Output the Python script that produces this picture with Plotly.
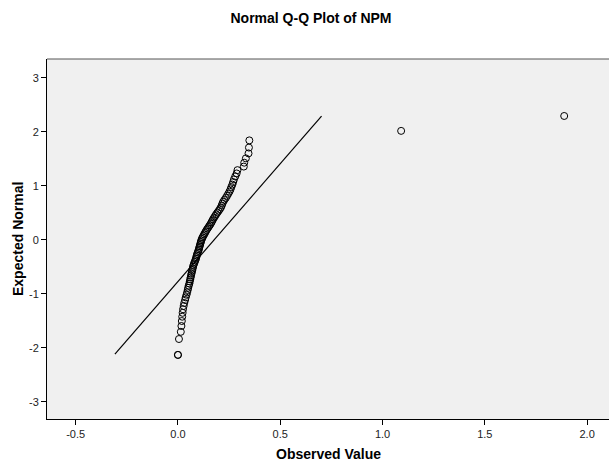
import plotly.graph_objects as go

# Observed NPM values, sorted ascending
observed = [
    0.000, 0.000, 0.005, 0.014, 0.017, 0.019, 0.021, 0.023, 0.025, 0.028,
    0.031, 0.035, 0.038, 0.042, 0.045, 0.048, 0.050, 0.053, 0.056, 0.058,
    0.060, 0.062, 0.064, 0.066, 0.068, 0.070, 0.072, 0.074, 0.076, 0.079,
    0.082, 0.085, 0.088, 0.090, 0.092, 0.094, 0.097, 0.100, 0.102, 0.104,
    0.106, 0.108, 0.110, 0.112, 0.114, 0.117, 0.120, 0.124, 0.128, 0.132,
    0.136, 0.140, 0.145, 0.150, 0.155, 0.160, 0.164, 0.168, 0.172, 0.177,
    0.182, 0.187, 0.193, 0.199, 0.205, 0.210, 0.214, 0.217, 0.221, 0.227,
    0.234, 0.240, 0.246, 0.252, 0.257, 0.261, 0.266, 0.270, 0.274, 0.280,
    0.287, 0.291, 0.322, 0.324, 0.332, 0.345, 0.347, 0.349, 1.091, 1.888,
]

# Expected normal scores for each observed value
expected = [
    -2.133, -2.133, -1.839, -1.706, -1.598, -1.506, -1.426, -1.354, -1.288, -1.227,
    -1.171, -1.117, -1.068, -1.020, -0.975, -0.931, -0.890, -0.850, -0.811, -0.773,
    -0.736, -0.701, -0.666, -0.632, -0.598, -0.566, -0.534, -0.502, -0.471, -0.441,
    -0.411, -0.381, -0.351, -0.322, -0.293, -0.265, -0.236, -0.208, -0.180, -0.152,
    -0.124, -0.097, -0.069, -0.041, -0.014, 0.014, 0.041, 0.069, 0.097, 0.124,
    0.152, 0.180, 0.208, 0.236, 0.265, 0.293, 0.322, 0.351, 0.381, 0.411,
    0.441, 0.471, 0.502, 0.534, 0.566, 0.598, 0.632, 0.666, 0.701, 0.736,
    0.773, 0.811, 0.850, 0.890, 0.931, 0.975, 1.020, 1.068, 1.117, 1.171,
    1.227, 1.288, 1.354, 1.426, 1.506, 1.598, 1.706, 1.839, 2.015, 2.291,
]

# Reference line endpoints (normal distribution line)
ref_x = [-0.308, 0.702]
ref_y = [-2.12, 2.29]

x_ticks = [-0.5, 0.0, 0.5, 1.0, 1.5, 2.0]
x_tick_labels = ["-0.5", "0.0", "0.5", "1.0", "1.5", "2.0"]
y_ticks = [-3, -2, -1, 0, 1, 2, 3]
y_tick_labels = ["-3", "-2", "-1", "0", "1", "2", "3"]

FONT = "Liberation Sans, Arial, sans-serif"

fig = go.Figure()

fig.add_trace(go.Scatter(
    x=ref_x, y=ref_y, mode="lines",
    line=dict(color="black", width=1.2),
    hoverinfo="skip", showlegend=False,
))

fig.add_trace(go.Scatter(
    x=observed, y=expected, mode="markers",
    marker=dict(symbol="circle-open", size=7, color="black",
                line=dict(color="black", width=1)),
    showlegend=False,
))

fig.update_layout(
    width=609, height=466,
    margin=dict(l=47, r=0, t=59, b=47),
    paper_bgcolor="white",
    plot_bgcolor="#f0f0f0",
    font=dict(family=FONT, color="#222222", size=11),
    title=dict(
        text="<b>Normal Q-Q Plot of NPM</b>",
        x=311 / 609, xanchor="center",
        y=1 - 18 / 466, yanchor="middle",
        font=dict(family=FONT, size=14, color="black"),
    ),
    xaxis=dict(
        range=[-0.640, 2.107],
        tickvals=x_ticks, ticktext=x_tick_labels,
        ticks="outside", ticklen=5, tickcolor="black", tickwidth=1,
        showgrid=False, zeroline=False,
        showline=True, linecolor="black", linewidth=1,
        tickfont=dict(size=11, color="#222222"),
    ),
    yaxis=dict(
        range=[-3.32, 3.346],
        tickvals=y_ticks, ticktext=y_tick_labels,
        ticks="outside", ticklen=5, tickcolor="black", tickwidth=1,
        showgrid=False, zeroline=False,
        showline=True, linecolor="black", linewidth=1,
        tickfont=dict(size=11, color="#222222"),
    ),
    shapes=[
        # frame line along the top of the plotting area
        dict(type="line", xref="paper", yref="paper", x0=0, x1=1, y0=1, y1=1,
             line=dict(color="#555555", width=1)),
    ],
    annotations=[
        dict(text="<b>Observed Value</b>", xref="paper", yref="paper",
             x=0.5, y=(419 - 454) / 360, xanchor="center", yanchor="middle",
             showarrow=False, font=dict(family=FONT, size=14, color="black")),
        dict(text="<b>Expected Normal</b>", xref="paper", yref="paper",
             x=(18 - 47) / 562, y=0.5, xanchor="center", yanchor="middle",
             textangle=-90, showarrow=False,
             font=dict(family=FONT, size=14, color="black")),
    ],
)

fig.write_html("out.html")
